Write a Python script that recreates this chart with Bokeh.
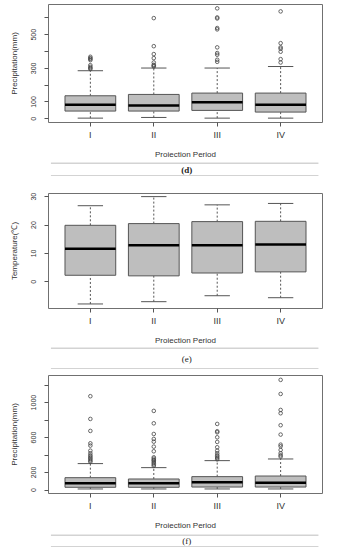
from bokeh.plotting import figure
from bokeh.layouts import column
from bokeh.models import Range1d, FixedTicker, Label
from bokeh.embed import file_html
from bokeh.resources import INLINE

# ---------------- data ----------------
periods = ["I", "II", "III", "IV"]

# (d) precipitation
d_low = [4, 8, 4, 4]
d_q1 = [46, 46, 50, 40]
d_med = [83, 79, 99, 83]
d_q3 = [137, 145, 153, 153]
d_high = [286, 302, 302, 311]
d_out = [
    [296, 302, 309, 319, 349, 356, 361, 369],
    [311, 316, 321, 335, 361, 385, 432, 599],
    [339, 351, 381, 391, 425, 532, 540, 597, 603, 657],
    [335, 355, 399, 417, 425, 450, 639],
]
d_ticks = [0, 100, 200, 300, 400, 500, 600]
d_tick_labels = ["0", "100", "", "300", "", "500", ""]

# (e) temperature
e_low = [-7.8, -7.0, -4.9, -5.6]
e_q1 = [2.3, 2.1, 3.1, 3.5]
e_med = [11.6, 12.9, 12.9, 13.1]
e_q3 = [19.9, 20.5, 21.2, 21.3]
e_high = [26.8, 30.0, 27.1, 27.6]
e_out = [[], [], [], []]
e_ticks = [0, 10, 20, 30]
e_tick_labels = ["0", "10", "20", "30"]

# (f) precipitation
f_low = [12, 12, 12, 12]
f_q1 = [31, 31, 34, 34]
f_med = [76, 76, 88, 84]
f_q3 = [141, 126, 153, 160]
f_high = [302, 256, 336, 355]
f_out = [
    [322, 336, 351, 366, 382, 397, 420, 450, 508, 534, 676, 813, 1073],
    [275, 290, 305, 320, 336, 344, 359, 374, 443, 496, 553, 584, 641, 763, 905],
    [351, 366, 382, 397, 420, 450, 489, 550, 603, 660, 672, 756],
    [382, 397, 420, 458, 500, 519, 634, 741, 878, 916, 1099, 1260],
]
f_ticks = [0, 200, 400, 600, 800, 1000, 1200]
f_tick_labels = ["0", "200", "", "600", "", "1000", ""]

FONT = "Liberation Sans"
W = 337


def box_panel(low, q1, med, q3, high, outs, yrange, ticks, tick_labels,
              ylabel, top, frame_h, bottom):
    p = figure(width=W, height=top + frame_h + bottom,
               x_range=Range1d(0.34, 4.66), y_range=Range1d(*yrange),
               output_backend="svg", toolbar_location=None,
               min_border_left=48, min_border_right=15,
               min_border_top=top, min_border_bottom=bottom)
    p.xgrid.visible = False
    p.ygrid.visible = False
    p.outline_line_color = "#707070"
    p.outline_line_width = 1
    xs = list(range(1, len(periods) + 1))
    # whiskers
    p.segment(x0=xs, y0=q3, x1=xs, y1=high, line_color="#555555",
              line_dash="2 2", line_width=1)
    p.segment(x0=xs, y0=low, x1=xs, y1=q1, line_color="#555555",
              line_dash="2 2", line_width=1)
    # staples
    p.segment(x0=[x - 0.2 for x in xs], y0=high, x1=[x + 0.2 for x in xs],
              y1=high, line_color="#555555", line_width=1)
    p.segment(x0=[x - 0.2 for x in xs], y0=low, x1=[x + 0.2 for x in xs],
              y1=low, line_color="#555555", line_width=1)
    # boxes
    p.quad(left=[x - 0.4 for x in xs], right=[x + 0.4 for x in xs],
           bottom=q1, top=q3, fill_color="#bebebe", line_color="#555555",
           line_width=1)
    # medians
    p.segment(x0=[x - 0.4 for x in xs], y0=med, x1=[x + 0.4 for x in xs],
              y1=med, line_color="black", line_width=2.5)
    # outliers
    ox, oy = [], []
    for x, vals in zip(xs, outs):
        ox += [x] * len(vals)
        oy += vals
    if ox:
        p.scatter(ox, oy, size=3.6, fill_color=None, line_color="#444444",
                  line_width=0.8)

    # axes
    p.xaxis.ticker = FixedTicker(ticks=xs)
    p.xaxis.major_label_overrides = {x: lab for x, lab in zip(xs, periods)}
    p.yaxis.ticker = FixedTicker(ticks=ticks)
    p.yaxis.major_label_overrides = {t: lab for t, lab in zip(ticks, tick_labels)}
    for ax in (p.xaxis[0], p.yaxis[0]):
        ax.axis_line_color = None
        ax.major_tick_line_color = "#555555"
        ax.major_tick_in = 0
        ax.major_tick_out = 4
        ax.minor_tick_line_color = None
        ax.major_label_text_font = FONT
        ax.major_label_text_color = "#333333"
        ax.axis_label_text_font = FONT
        ax.axis_label_text_font_style = "normal"
        ax.axis_label_text_font_size = "8px"
        ax.axis_label_text_color = "#333333"
    p.xaxis.major_label_text_font_size = "9px"
    p.xaxis.major_label_standoff = 3
    p.xaxis.axis_label = "Proiection Period"
    p.xaxis.axis_label_standoff = 7
    p.yaxis.major_label_text_font_size = "7px"
    p.yaxis.major_label_orientation = "vertical"
    p.yaxis.major_label_standoff = 8
    p.yaxis.axis_label = ylabel
    p.yaxis.axis_label_standoff = 10
    return p


def caption(text, h, style):
    c = figure(width=W, height=h, x_range=Range1d(0, W), y_range=Range1d(0, h),
               output_backend="svg", toolbar_location=None,
               min_border=0, min_border_left=0, min_border_right=0,
               min_border_top=0, min_border_bottom=0)
    c.axis.visible = False
    c.xgrid.visible = False
    c.ygrid.visible = False
    c.outline_line_color = None
    c.segment(x0=[3, 3], y0=[h - 0.5, 0.5], x1=[332, 332], y1=[h - 0.5, 0.5],
              line_color="#a8a8a8", line_width=1.2)
    c.add_layout(Label(x=170, y=h / 2, text=text, text_align="center",
                       text_baseline="middle", text_font="Liberation Serif",
                       text_font_size="9px", text_font_style=style,
                       text_color="#222222"))
    return c


pd_ = box_panel(d_low, d_q1, d_med, d_q3, d_high, d_out, (-22, 680),
                d_ticks, d_tick_labels, "Precipitation(mm)", 4, 118, 40)
cd = caption("(d)", 14, "bold")
pe = box_panel(e_low, e_q1, e_med, e_q3, e_high, e_out, (-9.4, 31.1),
               e_ticks, e_tick_labels, "Temperature(\u2103)", 17, 116, 38)
ce = caption("(e)", 22, "normal")
pf = box_panel(f_low, f_q1, f_med, f_q3, f_high, f_out, (-40, 1310),
               f_ticks, f_tick_labels, "Precipitation(mm)", 6, 118, 41)
cf = caption("(f)", 13, "normal")

layout = column(pd_, cd, pe, ce, pf, cf, spacing=0)
open("out.html", "w").write(file_html(layout, INLINE))
